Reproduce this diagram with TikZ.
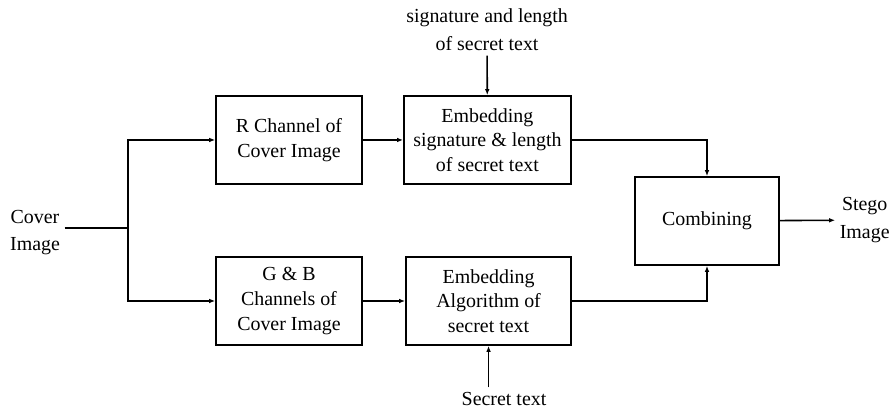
\documentclass[tikz,border=0pt]{standalone}
\usepackage{fontspec}
\setmainfont{Liberation Serif}
\usetikzlibrary{positioning,arrows.meta}

\begin{document}
\begin{tikzpicture}[
  block/.style={rectangle, draw, line width=1.3pt, minimum height=2.33cm, align=center, font=\fontsize{15}{18.5}\selectfont},
  label/.style={align=center, font=\fontsize{15}{21}\selectfont},
  line/.style={line width=1.2pt},
  >={Latex[length=4.5pt,width=3.5pt]},
  node distance=5.25cm
]
\useasboundingbox (-7.647,3.704) rectangle (16.008,-7.091);

\node[block, minimum width=3.86cm] (rch) at (0,0) {R Channel of\\Cover Image};
\node[block, minimum width=4.42cm, right of=rch] (embsig) {Embedding\\signature \& length\\of secret text};
\node[block, minimum width=3.86cm, below of=rch, node distance=4.26cm] (gbch) {G \& B\\Channels of\\Cover Image};
\node[block, minimum width=4.37cm, right of=gbch, node distance=5.28cm] (embalg) {Embedding\\Algorithm of\\secret text};
\node[block, minimum width=3.81cm] (comb) at (11.06,-2.143) {Combining};

\node[label] (cover) at (-6.72,-2.45) {Cover\\Image};
\node[label, anchor=west] (stego) at (14.45,-2.12) {Stego\\Image};
\node[label] (sig) at (5.24,2.91) {signature and length\\of secret text};
\node[label] (secret) at (5.69,-6.85) {Secret text};

\coordinate (split) at (-4.26,-2.328);

\draw[line] (cover.east |- split) -- (split);
\draw[->,line] (split) |- (rch.west);
\draw[->,line] (split) |- (gbch.west);
\draw[->,line] (rch) -- (embsig);
\draw[->,line] (gbch) -- (embalg);
\draw[->,line] (sig) -- (embsig);
\draw[->,line] (secret.north -| embalg) -- (embalg);
\draw[->,line] (embsig.east) -| (comb.north);
\draw[->,line] (embalg.east) -| (comb.south);
\draw[->,line] (comb) -- (stego);
\end{tikzpicture}
\end{document}
